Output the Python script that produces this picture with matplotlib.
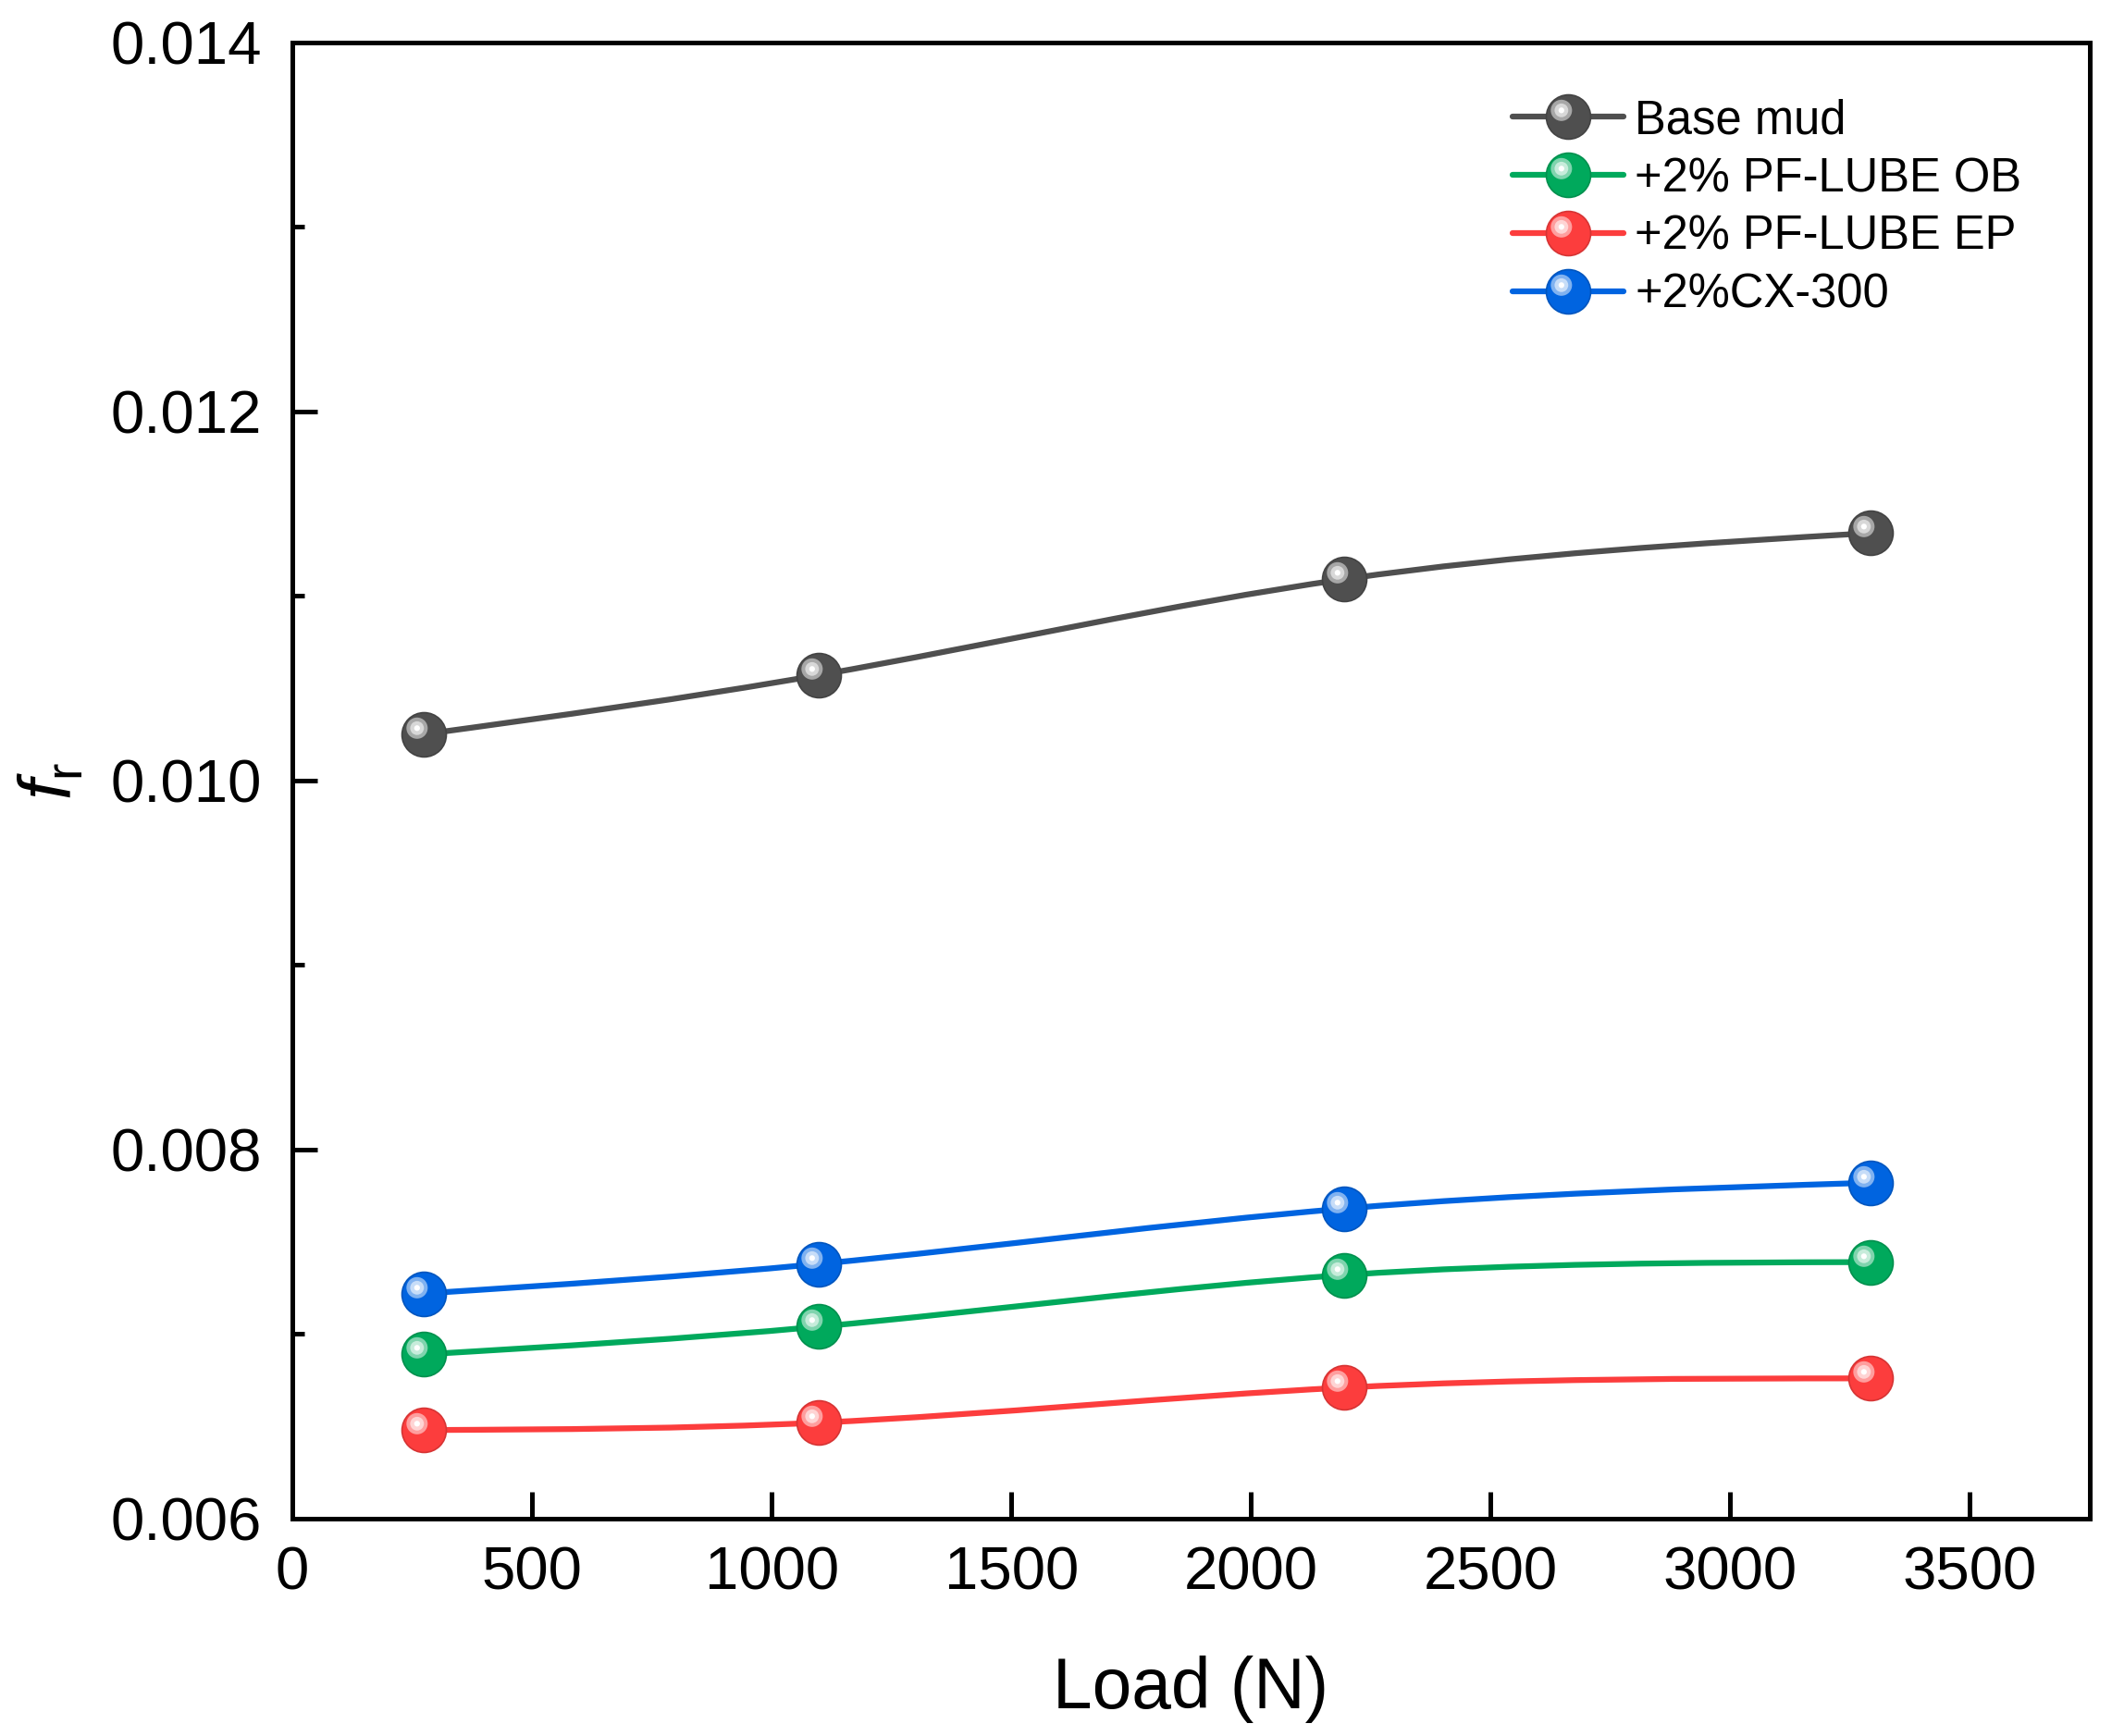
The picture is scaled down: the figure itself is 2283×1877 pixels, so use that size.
"""Friction coefficient vs load for base mud and lubricant additives."""

import numpy as np
import matplotlib
matplotlib.use("Agg")
import matplotlib.pyplot as plt
from matplotlib.path import Path
from matplotlib.patches import PathPatch
from matplotlib.lines import Line2D
from matplotlib.markers import MarkerStyle
from matplotlib.colors import to_rgb
from matplotlib.legend_handler import HandlerTuple
from matplotlib.ticker import MultipleLocator, FormatStrFormatter

# Data
load = [274.4, 1097.6, 2195.2, 3292.8]
labels = ["Base mud", "+2% PF-LUBE OB", "+2% PF-LUBE EP", "+2%CX-300"]
base_mud = [0.01025, 0.01057, 0.01109, 0.01134]
pf_lube_ob = [0.00689, 0.00704, 0.00732, 0.00739]
pf_lube_ep = [0.00648, 0.00652, 0.00671, 0.00676]
cx_300 = [0.00722, 0.00738, 0.00768, 0.00782]
colors = ["#4f4f4f", "#00a95c", "#fc3d3d", "#0064e0"]

plt.rcParams["font.family"] = ["Liberation Sans", "DejaVu Sans"]
plt.rcParams["mathtext.fontset"] = "custom"
plt.rcParams["mathtext.rm"] = "Liberation Sans"
plt.rcParams["mathtext.it"] = "Liberation Sans:italic"


def spline_path(x, y):
    """Natural cubic spline through the points, as a bezier path."""
    x = np.asarray(x, float)
    y = np.asarray(y, float)
    n = len(x)
    h = np.diff(x)
    d = np.diff(y) / h
    A = np.zeros((n, n))
    rhs = np.zeros(n)
    A[0, 0] = A[-1, -1] = 1.0
    for i in range(1, n - 1):
        A[i, i - 1] = h[i - 1]
        A[i, i] = 2 * (h[i - 1] + h[i])
        A[i, i + 1] = h[i]
        rhs[i] = 6 * (d[i] - d[i - 1])
    M = np.linalg.solve(A, rhs)
    slopes = np.empty(n)
    slopes[:-1] = d - h * (2 * M[:-1] + M[1:]) / 6
    slopes[-1] = d[-1] + h[-1] * (M[-2] + 2 * M[-1]) / 6
    verts = [(x[0], y[0])]
    codes = [Path.MOVETO]
    for i in range(n - 1):
        verts += [(x[i] + h[i] / 3, y[i] + slopes[i] * h[i] / 3),
                  (x[i + 1] - h[i] / 3, y[i + 1] - slopes[i + 1] * h[i] / 3),
                  (x[i + 1], y[i + 1])]
        codes += [Path.CURVE4] * 3
    return Path(verts, codes)


def highlight_marker(radius):
    """Small circle offset to the upper left, in units of the ball radius."""
    circ = Path.circle(center=(-0.32, 0.30), radius=radius)
    pad = Path([(1.0, 1.0), (-1.0, -1.0)], [Path.MOVETO, Path.MOVETO])
    return MarkerStyle(Path.make_compound_path(circ, pad))


def blend(c, f):
    r = np.array(to_rgb(c))
    return tuple(r + (1 - r) * f)


MS = 11.5
hl_layers = [(0.48, 0.5), (0.31, 0.78), (0.13, 1.0)]

fig = plt.figure(figsize=(7.61, 6.257), dpi=300)
ax = fig.add_axes([0.1384, 0.1252, 0.9895 - 0.1384, 0.9757 - 0.1252])

series = [base_mud, pf_lube_ob, pf_lube_ep, cx_300]
handles = []
for vals, c, lab in zip(series, colors, labels):
    ax.add_patch(PathPatch(spline_path(load, vals), fill=False,
                           edgecolor=c, lw=1.5, zorder=2,
                           capstyle="round"))
    edge = tuple(np.array(to_rgb(c)) * 0.85)
    ax.plot(load, vals, ls="none", marker="o", ms=MS, mfc=c, mec=edge,
            mew=0.4, zorder=3)
    proxy = [Line2D([], [], color=c, lw=1.5, marker="o", ms=MS, mfc=c,
                    mec=edge, mew=0.4, solid_capstyle="round")]
    for rad, f in hl_layers:
        m = highlight_marker(rad)
        ax.plot(load, vals, ls="none", marker=m, ms=MS, mfc=blend(c, f),
                mew=0, zorder=4)
        proxy.append(Line2D([], [], ls="none", marker=m, ms=MS,
                            mfc=blend(c, f), mew=0))
    handles.append(tuple(proxy))

ax.set_xlim(0, 3750)
ax.set_ylim(0.006, 0.014)
ax.xaxis.set_major_locator(MultipleLocator(500))
ax.yaxis.set_major_locator(MultipleLocator(0.002))
ax.yaxis.set_minor_locator(MultipleLocator(0.001))
ax.yaxis.set_major_formatter(FormatStrFormatter("%.3f"))

for side in ax.spines.values():
    side.set_linewidth(1.2)
ax.tick_params(which="both", direction="in", width=1.2, top=False,
               right=False, labelsize=15.7)
ax.tick_params(axis="x", which="major", length=7, pad=7)
ax.tick_params(axis="y", which="major", length=6.5, pad=8)
ax.tick_params(axis="y", which="minor", length=3)

ax.set_xlabel("Load (N)", fontsize=18.4, labelpad=14)
ax.set_ylabel(r"$f_\mathrm{r}$", fontsize=19, labelpad=6)

ax.legend(handles, labels, handler_map={tuple: HandlerTuple(ndivide=1, pad=0)},
          loc="upper left", bbox_to_anchor=(0.679, 0.962), frameon=False,
          fontsize=12.2, numpoints=1, handlelength=2.35, handletextpad=0.25,
          labelspacing=0.27, borderpad=0, borderaxespad=0)

fig.savefig("out.png", dpi=300)
plt.close(fig)
